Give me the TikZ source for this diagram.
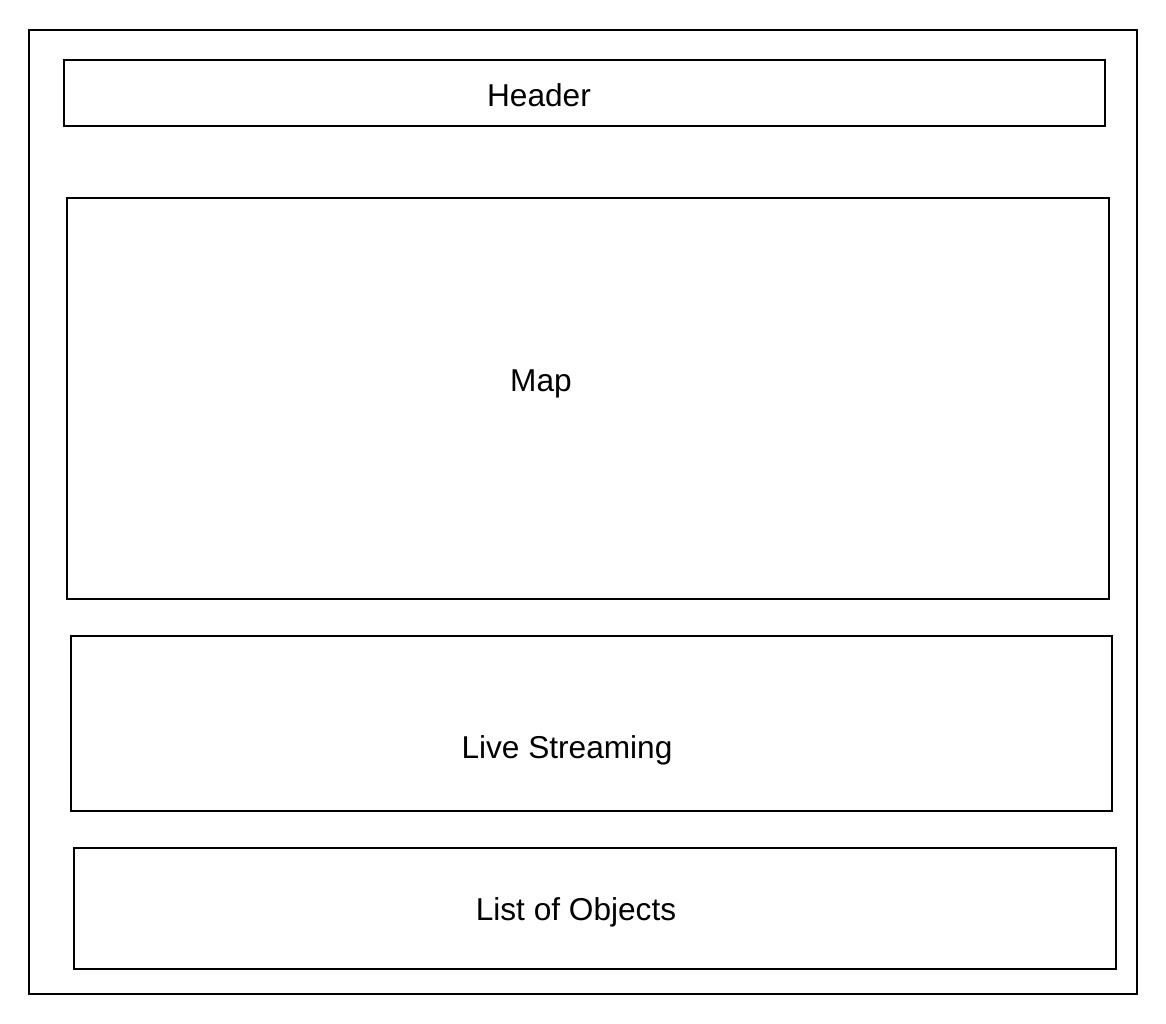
\documentclass[tikz,border=0pt]{standalone}
\usepackage{fontspec}
\setmainfont{Liberation Sans}
\begin{document}
\begin{tikzpicture}[x=0.02cm,y=-0.02cm,
  panel/.style={draw=black,line width=0.7pt,inner sep=0pt},
  lbl/.style={font=\fontsize{18}{21}\selectfont,inner sep=0pt}]
\useasboundingbox (0,0) rectangle (1166,1024);
\fill[white] (0,0) rectangle (1166,1024);
\draw[line width=0.7pt] (29,30) rectangle (1137,994);
\node[panel,minimum width=20.82cm,minimum height=1.32cm] (header) at (584.5,93) {};
\node[panel,minimum width=20.84cm,minimum height=8.02cm] (map) at (588,398.5) {};
\node[panel,minimum width=20.82cm,minimum height=3.5cm] (live) at (591.5,723.5) {};
\node[panel,minimum width=20.84cm,minimum height=2.42cm] (list) at (595,908.5) {};
\node[lbl] (headert) at (539,95) {Header};
\node[lbl] (mapt) at (541,384) {Map};
\node[lbl] (livet) at (567,750) {Live Streaming};
\node[lbl] (listt) at (576,912) {List of Objects};
\end{tikzpicture}
\end{document}
